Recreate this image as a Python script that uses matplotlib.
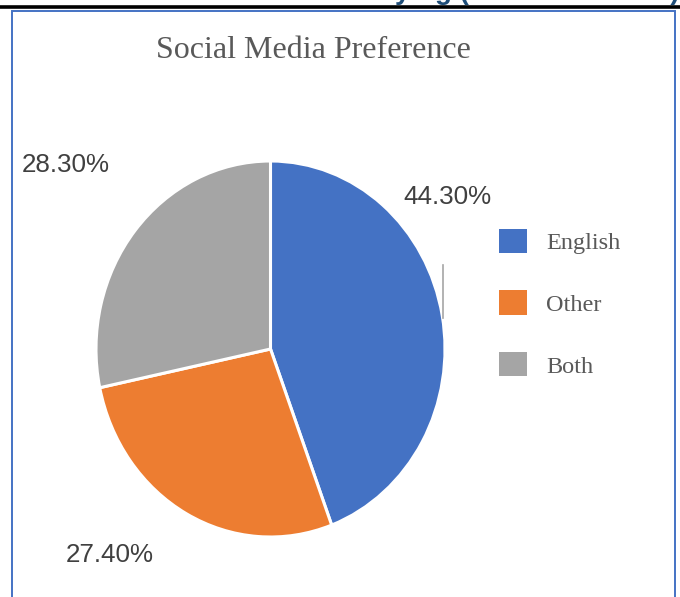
import matplotlib
matplotlib.use('Agg')
import matplotlib.pyplot as plt
from matplotlib.patches import Rectangle
from matplotlib.lines import Line2D

categories = ["English", "Other", "Both"]
shares = [44.3, 27.4, 28.3]
colors = ["#4472C4", "#ED7D31", "#A5A5A5"]
pct_labels = ["44.30%", "27.40%", "28.30%"]
title = "Social Media Preference"

W, H = 680, 597
fig = plt.figure(figsize=(W / 100, H / 100), dpi=100)

def fx(px):
    return px / W

def fy(py):
    return 1 - py / H

# page decoration: black rule, blue chart frame, cut-off heading
fig.add_artist(Line2D([0, 1], [fy(7), fy(7)], color="black", lw=2.6))
fig.add_artist(Rectangle((fx(12), fy(600)), fx(675) - fx(12), fy(11) - fy(600),
                         fill=False, edgecolor="#4472C4", lw=1.4))
fig.text(fx(680), fy(5), "ying (SOCIAL MEDIA)", ha="right", va="bottom",
         fontsize=20, fontweight="bold", color="#1F4E79", family="Liberation Sans")

# pie (image is slightly stretched vertically)
ax = fig.add_axes([fx(96), fy(537), fx(445) - fx(96), fy(161) - fy(537)])
wedges, _ = ax.pie(shares, colors=colors, startangle=90, counterclock=False,
                   wedgeprops=dict(edgecolor="white", linewidth=2.2))
ax.set_aspect("auto")
ax.set_xlim(-1.0, 1.0)
ax.set_ylim(-1.0, 1.0)
ax.axis("off")

# small stray grey line beside the pie
fig.add_artist(Line2D([fx(443), fx(443)], [fy(265), fy(318)], color="#A5A5A5", lw=1.2))

fig.text(0.5 * (fx(157) + fx(470)), fy(50), title, ha="center", va="center",
         fontsize=23, color="#595959", family="Liberation Serif")

label_pos = [(447, 197), (110, 555), (66, 165)]
for lab, (x, y) in zip(pct_labels, label_pos):
    fig.text(fx(x), fy(y), lab, ha="center", va="center",
             fontsize=18.7, color="#404040", family="Liberation Sans")

leg = fig.legend(wedges, categories, loc="upper left",
                 bbox_to_anchor=(fx(489), fy(219)), frameon=False,
                 prop={"family": "Liberation Serif", "size": 17.5},
                 handlelength=1.15, handleheight=1.15, handletextpad=0.8,
                 labelspacing=1.5, borderaxespad=0)
for t in leg.get_texts():
    t.set_color("#595959")
for h in leg.legend_handles:
    h.set_edgecolor("none")

fig.savefig("out.png", dpi=100)
